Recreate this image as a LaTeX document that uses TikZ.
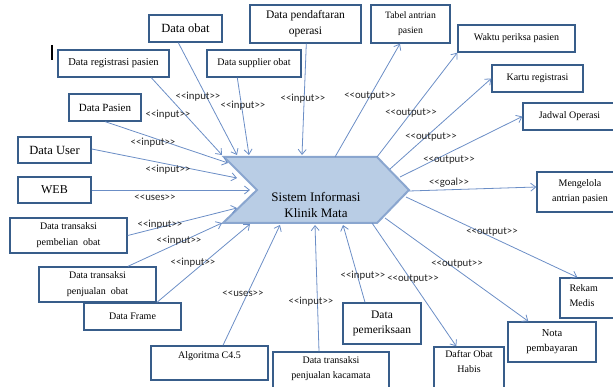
\documentclass[tikz,border=0pt]{standalone}
\usepackage{fontspec}
\setmainfont{Liberation Serif}
\newfontfamily\lblfont{Carlito}
\usetikzlibrary{arrows.meta,calc}

\definecolor{boxline}{HTML}{385D8A}
\definecolor{connblue}{HTML}{6B8EC6}
\definecolor{sysfill}{HTML}{B9CDE5}
\definecolor{sysline}{HTML}{8AA6CF}

% stereotype label such as <<input>>; the kerns keep << and >> from becoming guillemets
\newcommand\stereo[1]{<\kern0pt<#1>\kern0pt>}

\begin{document}
\begin{tikzpicture}[x=1pt,y=-1pt,
  box/.style={draw=boxline, line width=1.4pt, fill=white, inner sep=0pt,
              align=center, font=\fontsize{10}{15}\selectfont},
  boxtext/.style={inner sep=0pt, align=center, font=\fontsize{10}{15}\selectfont},
  link/.style={draw=connblue, line width=0.8pt, -{Straight Barb[length=5pt,width=8pt]}},
  tag/.style={font=\lblfont\fontsize{10.8}{12}\selectfont, text=black!85, inner sep=0pt},
  sysshape/.style={draw=sysline, fill=sysfill, line width=2pt, line join=miter},
]
\useasboundingbox (0,0) rectangle (613,387);

% text cursor mark
\draw[line width=1.8pt] (52,45) -- (52,60);

% ---- central system shape
\coordinate (hub) at (316,190);
\draw[sysshape, shift={(hub)}] (-92,-33) -- (61,-33) -- (93,0) -- (61,33) -- (-93,33) -- (-59,0) -- cycle;
\node[inner sep=0pt, align=center, font=\fontsize{13}{16}\selectfont] (sys) at (316,205) {Sistem Informasi\\Klinik Mata};

% ---- input side boxes
\node[box, minimum width=73pt, minimum height=27pt, font=\fontsize{12.5}{15}\selectfont] (dobat) at (185.5,28.5) {Data obat};
\node[box, minimum width=111pt, minimum height=27pt, font=\fontsize{10.5}{15}\selectfont] (dreg) at (113.5,63.5) {Data registrasi pasien};
\node[box, minimum width=94pt, minimum height=27pt] (dsup) at (254,63.5) {Data supplier obat};
\node[box, minimum width=111pt, minimum height=38pt, font=\fontsize{11.5}{16}\selectfont] (dpend) at (305.5,24) {Data pendaftaran\\operasi};
\node[box, minimum width=72pt, minimum height=27pt, font=\fontsize{11}{15}\selectfont] (dpas) at (105,107.5) {Data Pasien};
\node[box, minimum width=73pt, minimum height=26pt, font=\fontsize{12.5}{15}\selectfont] (duser) at (54.5,150) {Data User};
\node[box, minimum width=73pt, minimum height=26pt, font=\fontsize{12}{15}\selectfont] (web) at (54.5,190) {WEB};
\node[box, minimum width=117pt, minimum height=35pt, font=\fontsize{10}{16}\selectfont] (dbeli) at (68.5,235.5) {Data transaksi\\pembelian\ \ obat};
\node[box, minimum width=117pt, minimum height=35pt, font=\fontsize{10}{16}\selectfont] (djual) at (97.5,284.5) {Data transaksi\\penjualan\ \ obat};
\node[box, minimum width=97pt, minimum height=27pt] (dframe) at (132.5,316.5) {Data Frame};
\node[box, minimum width=117pt, minimum height=34pt] (algo) at (209.5,363) {};
\node[boxtext] (algotxt) at ($(algo.north)+(0,11)$) {Algoritma C4.5};
\node[box, minimum width=116pt, minimum height=38pt] (dkaca) at (331,371) {};
\node[boxtext, anchor=north] (dkacatxt) at ($(dkaca.north)+(0,5)$) {Data transaksi\\penjualan kacamata};
\node[box, minimum width=78pt, minimum height=41pt, font=\fontsize{11.5}{15}\selectfont] (dperiksa) at (382,323.5) {Data\\pemeriksaan};

% ---- output side boxes
\node[box, minimum width=79pt, minimum height=38pt, font=\fontsize{9.7}{15}\selectfont] (tabel) at (410.5,24) {Tabel antrian\\pasien};
\node[box, minimum width=117pt, minimum height=27pt] (waktu) at (516.5,38.5) {Waktu periksa pasien};
\node[box, minimum width=91pt, minimum height=27pt] (kartu) at (537.5,78.5) {Kartu registrasi};
\node[box, minimum width=93pt, minimum height=27pt] (jadwal) at (569.5,116.5) {Jadwal Operasi};
\node[box, minimum width=82pt, minimum height=40pt] (kelola) at (578,192) {};
\node[boxtext] (kelolatxt) at ($(kelola.center)+(2,0)$) {Mengelola\\antrian pasien};
\node[box, minimum width=60pt, minimum height=40pt] (rekam) at (590,298) {};
\node[boxtext, anchor=west, align=left] (rekamtxt) at ($(rekam.west)+(10,-2)$) {Rekam\\Medis};
\node[box, minimum width=88pt, minimum height=40pt, font=\fontsize{10.5}{15}\selectfont] (nota) at (552,342) {Nota\\pembayaran};
\node[box, minimum width=70pt, minimum height=43pt] (daftar) at (469,368.5) {};
\node[boxtext, anchor=north] (daftartxt) at ($(daftar.north)+(0,4)$) {Daftar Obat\\Habis};

% ---- inputs into the system
\draw[link] ($(dreg.south west)+(94,0)$) -- ($(hub)+(-94,-35)$);
\draw[link] ($(dobat.south west)+(30,0)$) -- ($(hub)+(-79,-35)$);
\draw[link] ($(dsup.south west)+(31,0)$) -- ($(hub)+(-67,-35)$);
\draw[link] ($(dpend.south west)+(57,0)$) -- ($(hub)+(-14,-35)$);
\draw[link] ($(dpas.south west)+(37,0)$) -- ($(hub)+(-88,-27)$);
\draw[link] ($(duser.east)+(0,-1)$) -- ($(hub)+(-79,-12)$);
\draw[link] (web.east) -- ($(hub)+(-66,0)$);
\draw[link] (dbeli.east) -- ($(hub)+(-79,18)$);
\draw[link] ($(djual.north)+(30.5,0)$) -- ($(hub)+(-94,33)$);
\draw[link] ($(dframe.north)+(24.5,0)$) -- ($(hub)+(-66,34)$);
\draw[link] ($(algo.north)+(13.5,0)$) -- ($(hub)+(-36,35)$);
\draw[link] ($(dkaca.north)+(-12,0)$) -- ($(hub)+(-1,35)$);
\draw[link] ($(dperiksa.north)+(-17,0)$) -- ($(hub)+(27,35)$);

% ---- outputs from the system
\draw[link] ($(hub)+(19,-33)$) -- ($(tabel.south)+(-10.5,0)$);
\draw[link] ($(hub)+(61,-33)$) -- (waktu.south west);
\draw[link] ($(hub)+(74,-21)$) -- (kartu.west);
\draw[link] ($(hub)+(84,-13)$) -- (jadwal.west);
\draw[link] ($(hub)+(93,1)$) -- ($(kelola.west)+(0,-5)$);
\draw[link] ($(hub)+(90,7)$) -- ($(rekam.north west)+(18,0)$);
\draw[link] ($(hub)+(69,28)$) -- ($(nota.north west)+(21,0)$);
\draw[link] ($(hub)+(56,33)$) -- ($(daftar.north west)+(23,0)$);

% ---- stereotype labels
\node[tag] (l1) at (198,97) {\stereo{input}};
\node[tag] (l2) at (243,106) {\stereo{input}};
\node[tag] (l3) at (303,99) {\stereo{input}};
\node[tag] (l4) at (168,115) {\stereo{input}};
\node[tag] (l5) at (153,143) {\stereo{input}};
\node[tag] (l6) at (168,170) {\stereo{input}};
\node[tag] (l7) at (155,198) {\stereo{uses}};
\node[tag] (l8) at (160,225) {\stereo{input}};
\node[tag] (l9) at (179,241) {\stereo{input}};
\node[tag] (l10) at (193,263) {\stereo{input}};
\node[tag] (l11) at (243,294) {\stereo{uses}};
\node[tag] (l12) at (311,302) {\stereo{input}};
\node[tag] (l13) at (363,276) {\stereo{input}};
\node[tag] (l14) at (413,279) {\stereo{output}};
\node[tag] (l15) at (457,264) {\stereo{output}};
\node[tag] (l16) at (492,232) {\stereo{output}};
\node[tag] (l17) at (449,183) {\stereo{goal}};
\node[tag] (l18) at (449,160) {\stereo{output}};
\node[tag] (l19) at (431,137) {\stereo{output}};
\node[tag] (l20) at (411,113) {\stereo{output}};
\node[tag] (l21) at (370,96) {\stereo{output}};
\end{tikzpicture}
\end{document}
